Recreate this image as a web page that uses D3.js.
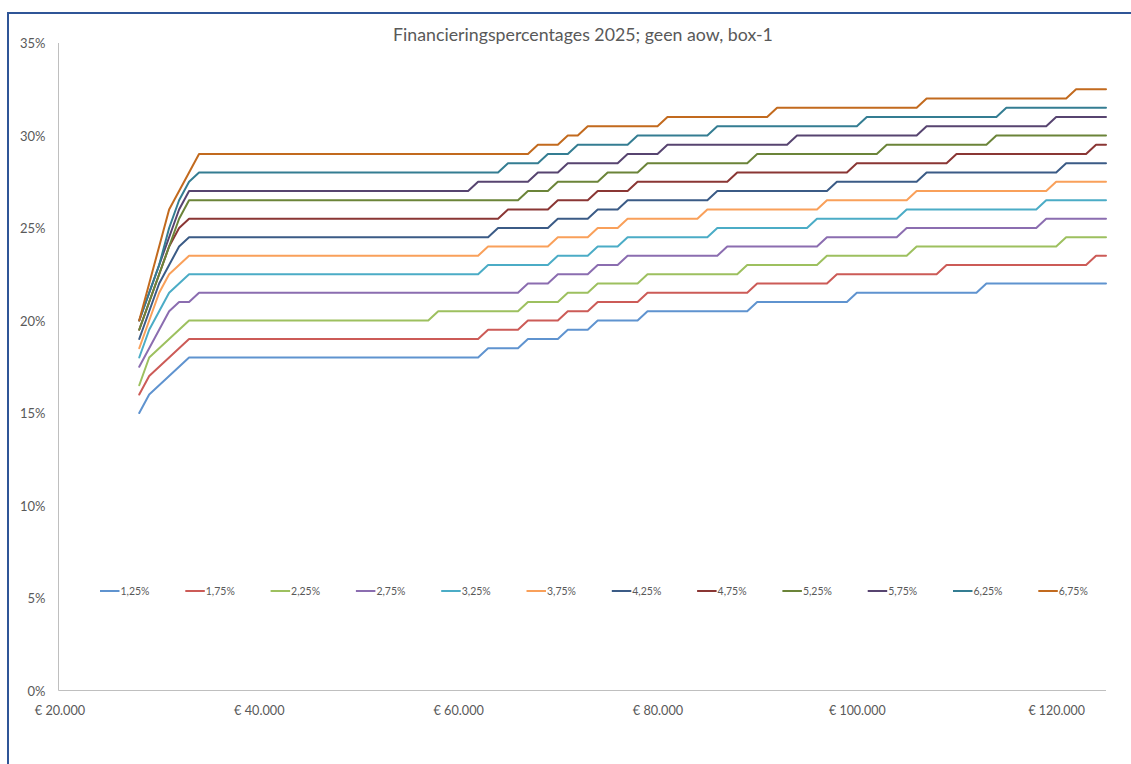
<!DOCTYPE html>
<html>
<head>
<meta charset="utf-8">
<script src="https://cdn.jsdelivr.net/npm/d3@7/dist/d3.min.js"></script>
<style>
  html, body { margin: 0; padding: 0; background: #fff; }
  svg { display: block; }
  text { font-family: Lato, "Open Sans", sans-serif; fill: #595959; }
</style>
</head>
<body>
<svg id="chart" width="1131" height="764"></svg>
<script>
// ---------- data ----------
const chartTitle = "Financieringspercentages 2025; geen aow, box-1";
const seriesLabels = ["1,25%","1,75%","2,25%","2,75%","3,25%","3,75%","4,25%","4,75%","5,25%","5,75%","6,25%","6,75%"];
const seriesColors = ["#5F93CF","#CC5B57","#9DC05F","#8B6DB0","#4BACC6","#F9A05A","#3B5B86","#8A3634","#6B8439","#574470","#347D92","#C26A1E"];
const xTickValues = [20000, 40000, 60000, 80000, 100000, 120000];
const yTickValues = [0, 5, 10, 15, 20, 25, 30, 35];

// vertices [income (x1000 euro), financing percentage]
const s125 = [[28,15],[29,16],[33,18],[62,18],[63,18.5],[66,18.5],[67,19],[70,19],[71,19.5],[73,19.5],[74,20],[78,20],[79,20.5],[89,20.5],[90,21],[99,21],[100,21.5],[112,21.5],[113,22],[125,22]];
const s175 = [[28,16],[29,17],[33,19],[62,19],[63,19.5],[66,19.5],[67,20],[70,20],[71,20.5],[73,20.5],[74,21],[78,21],[79,21.5],[89,21.5],[90,22],[97,22],[98,22.5],[108,22.5],[109,23],[123,23],[124,23.5],[125,23.5]];
const s225 = [[28,16.5],[29,18],[33,20],[57,20],[58,20.5],[66,20.5],[67,21],[70,21],[71,21.5],[73,21.5],[74,22],[78,22],[79,22.5],[88,22.5],[89,23],[96,23],[97,23.5],[105,23.5],[106,24],[120,24],[121,24.5],[125,24.5]];
const s275 = [[28,17.5],[31,20.5],[32,21],[33,21],[34,21.5],[66,21.5],[67,22],[69,22],[70,22.5],[73,22.5],[74,23],[76,23],[77,23.5],[86,23.5],[87,24],[96,24],[97,24.5],[104,24.5],[105,25],[118,25],[119,25.5],[125,25.5]];
const s325 = [[28,18],[29,19.5],[30,20.5],[31,21.5],[33,22.5],[62,22.5],[63,23],[69,23],[70,23.5],[73,23.5],[74,24],[76,24],[77,24.5],[85,24.5],[86,25],[95,25],[96,25.5],[104,25.5],[105,26],[118,26],[119,26.5],[125,26.5]];
const s375 = [[28,18.5],[29,20],[30,21.5],[31,22.5],[33,23.5],[62,23.5],[63,24],[69,24],[70,24.5],[73,24.5],[74,25],[76,25],[77,25.5],[84,25.5],[85,26],[96,26],[97,26.5],[105,26.5],[106,27],[119,27],[120,27.5],[125,27.5]];
const s425 = [[28,19],[29,20.5],[30,22],[31,23],[32,24],[33,24.5],[63,24.5],[64,25],[69,25],[70,25.5],[73,25.5],[74,26],[76,26],[77,26.5],[85,26.5],[86,27],[97,27],[98,27.5],[106,27.5],[107,28],[120,28],[121,28.5],[125,28.5]];
const s475 = [[28,19.5],[29,21],[30,22.5],[31,24],[32,25],[33,25.5],[64,25.5],[65,26],[69,26],[70,26.5],[73,26.5],[74,27],[77,27],[78,27.5],[87,27.5],[88,28],[99,28],[100,28.5],[109,28.5],[110,29],[123,29],[124,29.5],[125,29.5]];
const s525 = [[28,19.5],[29,21],[30,22.5],[31,24],[32,25.5],[33,26.5],[66,26.5],[67,27],[69,27],[70,27.5],[74,27.5],[75,28],[78,28],[79,28.5],[89,28.5],[90,29],[102,29],[103,29.5],[113,29.5],[114,30],[125,30]];
const s575 = [[28,20],[29,21.5],[30,23],[31,24.5],[32,26],[33,27],[61,27],[62,27.5],[67,27.5],[68,28],[70,28],[71,28.5],[76,28.5],[77,29],[80,29],[81,29.5],[93,29.5],[94,30],[106,30],[107,30.5],[119,30.5],[120,31],[125,31]];
const s625 = [[28,20],[29,21.5],[30,23],[31,25],[32,26.5],[33,27.5],[34,28],[64,28],[65,28.5],[68,28.5],[69,29],[71,29],[72,29.5],[77,29.5],[78,30],[85,30],[86,30.5],[100,30.5],[101,31],[114,31],[115,31.5],[125,31.5]];
const s675 = [[28,20],[29,22],[30,24],[31,26],[32,27],[33,28],[34,29],[67,29],[68,29.5],[70,29.5],[71,30],[72,30],[73,30.5],[80,30.5],[81,31],[91,31],[92,31.5],[106,31.5],[107,32],[121,32],[122,32.5],[125,32.5]];
const seriesData = [s125, s175, s225, s275, s325, s375, s425, s475, s525, s575, s625, s675];

// ---------- layout ----------
const svg = d3.select("#chart");
const x = d3.scaleLinear().domain([20000, 125000]).range([59.5, 1106]);
const y = d3.scaleLinear().domain([0, 35]).range([690.5, 43]);

// outer border
svg.append("rect").attr("x", 8).attr("y", 13).attr("width", 1140).attr("height", 770)
  .attr("fill", "none").attr("stroke", "#2F5597").attr("stroke-width", 2);

// fit a text to a target width
function fit(sel, target, base) {
  sel.style("font-size", base + "px");
  const w = sel.node().getComputedTextLength();
  sel.style("font-size", (base * target / w).toFixed(2) + "px");
}

// title
const t = svg.append("text").attr("x", 583).attr("y", 40.5).attr("text-anchor", "middle").text(chartTitle);
fit(t, 380, 16);

// axes
const xAxis = d3.axisBottom(x).tickValues(xTickValues).tickSize(0).tickPadding(0)
  .tickFormat(d => "€ " + d3.format(",")(d).replace(/,/g, "."));
const gx = svg.append("g").attr("transform", "translate(0,690.5)").call(xAxis);
gx.select(".domain").attr("stroke", "#BFBFBF").attr("stroke-width", 1).attr("d", "M58.5,0H" + x(125000));
gx.selectAll(".tick text").attr("y", 24).attr("dy", 0).style("font-family", "Lato, sans-serif").style("fill", "#595959")
  .each(function() { fit(d3.select(this), this.textContent.length === 8 ? 50.5 : 56.5, 13); });

const yAxis = d3.axisLeft(y).tickValues(yTickValues).tickSize(0).tickPadding(0).tickFormat(d => d + "%");
const gy = svg.append("g").attr("transform", "translate(58.5,0)").call(yAxis);
gy.select(".domain").attr("stroke", "#BFBFBF").attr("stroke-width", 1).attr("d", "M0," + y(35) + "V" + y(0));
gy.selectAll(".tick text").attr("x", -13).attr("dy", "0.35em").style("font-family", "Lato, sans-serif").style("fill", "#595959").style("font-size", "13px");

// lines
const line = d3.line().x(d => x(d[0] * 1000)).y(d => y(d[1]));
svg.append("g").selectAll("path").data(seriesData).join("path")
  .attr("d", line).attr("fill", "none")
  .attr("stroke", (d, i) => seriesColors[i]).attr("stroke-width", 2)
  .attr("stroke-linejoin", "round").attr("stroke-linecap", "round");

// legend
const lg = svg.append("g").selectAll("g").data(seriesLabels).join("g")
  .attr("transform", (d, i) => `translate(${100 + i * 85.3},591)`);
lg.append("line").attr("x1", 0).attr("x2", 19.5).attr("y1", 0).attr("y2", 0)
  .attr("stroke", (d, i) => seriesColors[i]).attr("stroke-width", 2);
lg.append("text").attr("x", 20.5).attr("y", 3.6).text(d => d)
  .each(function() { fit(d3.select(this), 29, 10); });
</script>
</body>
</html>
